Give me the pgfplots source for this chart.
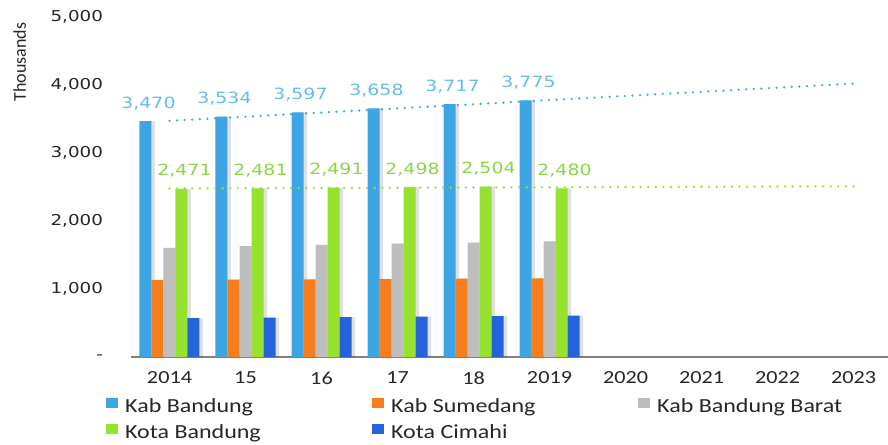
\documentclass[border=0pt]{standalone}
\usepackage{pgfplots}
\usepackage{pgfplotstable}
\pgfplotsset{compat=1.18}
\usepackage{fontspec}
\setmainfont{Carlito}[FakeStretch=1.2]
\newfontfamily\carlitoplain{Carlito}
\newfontfamily\dejavu{DejaVu Sans}[FakeStretch=1.22]
\definecolor{cKB}{RGB}{61,165,228}
\definecolor{cKS}{RGB}{247,124,27}
\definecolor{cKBB}{RGB}{190,190,190}
\definecolor{cKoB}{RGB}{150,226,46}
\definecolor{cKC}{RGB}{36,99,218}
\definecolor{lKB}{RGB}{100,188,238}
\definecolor{lKoB}{RGB}{140,212,70}
\definecolor{tKB}{RGB}{70,170,230}
\definecolor{tKoB}{RGB}{155,222,60}

\pgfplotstableread{
x kb ks kbb kob kc
0 3470 1131 1605 2471 570
1 3534 1137 1630 2481 580
2 3597 1142 1650 2491 585
3 3658 1147 1666 2498 595
4 3717 1152 1682 2504 600
5 3775 1158 1700 2480 610
}\data

\pgfplotstableread{
x trend
0 3473
9 4022
}\trendKB

\pgfplotstableread{
x trend
0 2479
9 2510
}\trendKoB

\newcommand{\lgd}[1]{\makebox[245bp][l]{#1}}

\begin{document}
\begin{tikzpicture}
\path[use as bounding box] (-131.5bp,-88bp) rectangle (756.5bp,357bp);
\begin{axis}[
  at={(0,0)}, anchor=south west,
  scale only axis, width=756.2bp, height=340bp,
  xmin=-0.5, xmax=9.45, ymin=0, ymax=5000,
  axis x line*=bottom, axis y line*=left,
  y axis line style={draw=none},
  x axis line style={draw=black!50, line width=1.3bp},
  tick style={draw=none},
  xtick={0,...,9},
  xticklabels={2014,15,16,17,18,2019,2020,2021,2022,2023},
  ytick={0,1000,2000,3000,4000,5000},
  yticklabels={-,{1,000},{2,000},{3,000},{4,000},{5,000}},
  xticklabel style={font=\fontsize{18.5bp}{22bp}\selectfont, text=black!85, yshift=-11bp},
  yticklabel style={font=\dejavu\fontsize{15bp}{18bp}\selectfont, text=black!85, anchor=east, xshift=-25bp},
  ylabel={Thousands},
  ylabel style={at={(axis description cs:-0.148,0.868)}, anchor=center, font=\carlitoplain\fontsize{18bp}{20bp}\selectfont, text=black!85},
  /pgf/number format/.cd, 1000 sep={,}, assume math mode=true, /pgfplots/.cd,
  legend columns=3,
  legend cell align=left,
  legend style={at={(-0.0377,-0.1147)}, anchor=north west, draw=none, fill=none,
    font=\fontsize{20bp}{24bp}\selectfont, text=black!85,
    nodes={inner sep=0pt, text height=12bp, text depth=4bp},
    /tikz/row sep=8bp,
    /tikz/every odd column/.append style={column sep=7bp},
    /tikz/every even column/.append style={column sep=2bp}},
]
% shadows
\addplot[ybar, bar width=12bp, bar shift=-20.5bp, fill=black, opacity=0.12, draw=none, forget plot] table[x=x,y=kb]{\data};
\addplot[ybar, bar width=12bp, bar shift=-8.5bp, fill=black, opacity=0.12, draw=none, forget plot] table[x=x,y=ks]{\data};
\addplot[ybar, bar width=12bp, bar shift=3.5bp, fill=black, opacity=0.12, draw=none, forget plot] table[x=x,y=kbb]{\data};
\addplot[ybar, bar width=12bp, bar shift=15.5bp, fill=black, opacity=0.12, draw=none, forget plot] table[x=x,y=kob]{\data};
\addplot[ybar, bar width=12bp, bar shift=27.5bp, fill=black, opacity=0.12, draw=none, forget plot] table[x=x,y=kc]{\data};
% bars
\addplot[ybar, bar width=12bp, bar shift=-24bp, fill=cKB, draw=none,
  legend image code/.code={\fill[cKB] (0bp,0.5bp) rectangle (12bp,10bp);},
  nodes near coords, nodes near coords style={font=\dejavu\fontsize{15.5bp}{18bp}\selectfont, text=lKB, anchor=south, inner sep=0pt, yshift=11bp, xshift=-21bp}]
  table[x=x,y=kb]{\data};
\addlegendentry{\lgd{Kab Bandung}}
\addplot[ybar, bar width=12bp, bar shift=-12bp, fill=cKS, draw=none,
  legend image code/.code={\fill[cKS] (0bp,0.5bp) rectangle (12bp,10bp);}]
  table[x=x,y=ks]{\data};
\addlegendentry{\lgd{Kab Sumedang}}
\addplot[ybar, bar width=12bp, bar shift=0bp, fill=cKBB, draw=none,
  legend image code/.code={\fill[cKBB] (0bp,0.5bp) rectangle (12bp,10bp);}]
  table[x=x,y=kbb]{\data};
\addlegendentry{Kab Bandung Barat}
\addplot[ybar, bar width=12bp, bar shift=12bp, fill=cKoB, draw=none,
  legend image code/.code={\fill[cKoB] (0bp,0.5bp) rectangle (12bp,10bp);},
  nodes near coords, nodes near coords style={font=\dejavu\fontsize{15.5bp}{18bp}\selectfont, text=lKoB, anchor=south, inner sep=0pt, yshift=11bp, xshift=15bp}]
  table[x=x,y=kob]{\data};
\addlegendentry{\lgd{Kota Bandung}}
\addplot[ybar, bar width=12bp, bar shift=24bp, fill=cKC, draw=none,
  legend image code/.code={\fill[cKC] (0bp,0.5bp) rectangle (12bp,10bp);}]
  table[x=x,y=kc]{\data};
\addlegendentry{\lgd{Kota Cimahi}}
% trend lines
\addplot[tKB, line width=2.6bp, line cap=round, dash pattern=on 0bp off 7.6bp, forget plot] table[x=x,y=trend]{\trendKB};
\addplot[tKoB, line width=2.6bp, line cap=round, dash pattern=on 0bp off 7.6bp, forget plot] table[x=x,y=trend]{\trendKoB};
\end{axis}
\end{tikzpicture}
\end{document}
